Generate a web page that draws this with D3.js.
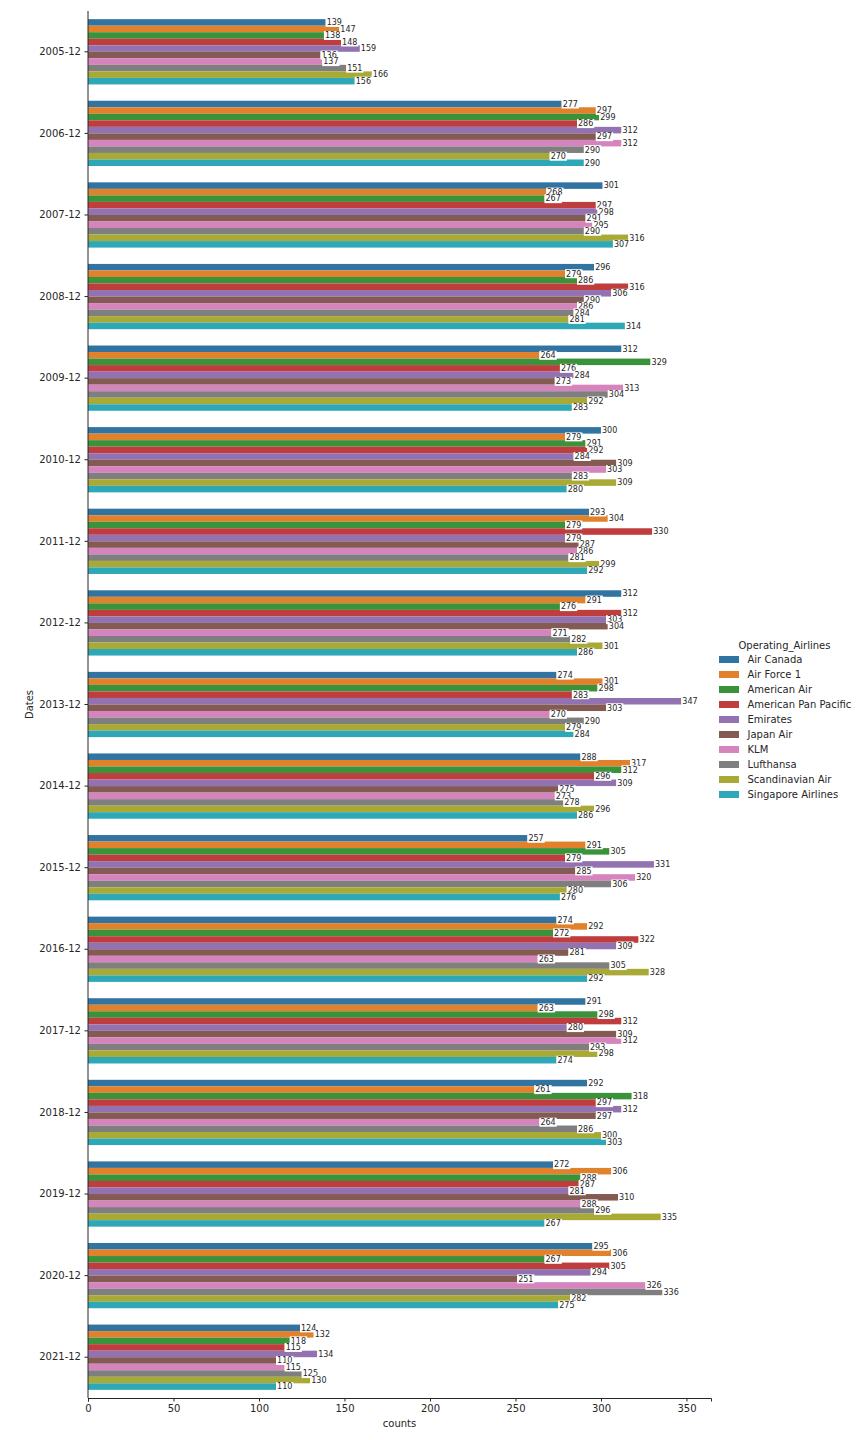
<!DOCTYPE html>
<html>
<head>
<meta charset="utf-8">
<script src="https://cdn.jsdelivr.net/npm/d3@7"></script>
<style>
  body { margin: 0; background: #fff; }
  svg { display: block; font-family: "DejaVu Sans", sans-serif; }
</style>
</head>
<body>
<svg id="chart" width="859" height="1440"></svg>
<script>
const dates = ["2005-12","2006-12","2007-12","2008-12","2009-12","2010-12","2011-12","2012-12","2013-12","2014-12","2015-12","2016-12","2017-12","2018-12","2019-12","2020-12","2021-12"];
const airlines = ["Air Canada","Air Force 1","American Air","American Pan Pacific","Emirates","Japan Air","KLM","Lufthansa","Scandinavian Air","Singapore Airlines"];
const colors = ["#3274a1","#e1812c","#3a923a","#c03d3e","#9372b2","#845b53","#d684bd","#7f7f7f","#a9aa35","#2ea8b6"];

// counts per date, in airline order
const c2005 = [139,147,138,148,159,136,137,151,166,156];
const c2006 = [277,297,299,286,312,297,312,290,270,290];
const c2007 = [301,268,267,297,298,291,295,290,316,307];
const c2008 = [296,279,286,316,306,290,286,284,281,314];
const c2009 = [312,264,329,276,284,273,313,304,292,283];
const c2010 = [300,279,291,292,284,309,303,283,309,280];
const c2011 = [293,304,279,330,279,287,286,281,299,292];
const c2012 = [312,291,276,312,303,304,271,282,301,286];
const c2013 = [274,301,298,283,347,303,270,290,279,284];
const c2014 = [288,317,312,296,309,275,273,278,296,286];
const c2015 = [257,291,305,279,331,285,320,306,280,276];
const c2016 = [274,292,272,322,309,281,263,305,328,292];
const c2017 = [291,263,298,312,280,309,312,293,298,274];
const c2018 = [292,261,318,297,312,297,264,286,300,303];
const c2019 = [272,306,288,287,281,310,288,296,335,267];
const c2020 = [295,306,267,305,294,251,326,336,282,275];
const c2021 = [124,132,118,115,134,110,115,125,130,110];
const counts = [c2005,c2006,c2007,c2008,c2009,c2010,c2011,c2012,c2013,c2014,c2015,c2016,c2017,c2018,c2019,c2020,c2021];
const xTicks = [0,50,100,150,200,250,300,350];

(function () {
const svg = d3.select("#chart");
const mLeft = 88, mRight = 711, mTop = 11, mBottom = 1398;
const textColor = "#262626";

const x = d3.scaleLinear().domain([0, 347 * 1.05]).range([mLeft, mRight]);
const y = d3.scaleBand().domain(dates).range([mTop, mBottom]).paddingInner(0.2).paddingOuter(0.1);
const yOuter = d3.scaleBand().domain(dates).range([mTop, mBottom]);
const yInner = d3.scaleBand().domain(airlines).range([0, y.bandwidth()]);

const data = [];
dates.forEach((d, i) => airlines.forEach((a, j) => data.push({date: d, airline: a, value: counts[i][j], hue: j})));

// bars
svg.append("g").selectAll("rect").data(data).join("rect")
  .attr("x", x(0))
  .attr("y", d => y(d.date) + yInner(d.airline))
  .attr("width", d => x(d.value) - x(0))
  .attr("height", yInner.bandwidth())
  .attr("fill", d => colors[d.hue]);

// labels, drawn hue by hue
const labG = svg.append("g");
airlines.forEach((a, j) => {
  const rows = data.filter(d => d.hue === j);
  rows.forEach(d => {
    const cy = y(d.date) + yInner(d.airline) + yInner.bandwidth() / 2;
    const g = labG.append("g");
    const r = g.append("rect").attr("fill", "#fff");
    const t = g.append("text")
      .attr("x", x(d.value) + 1)
      .attr("y", cy)
      .attr("dy", "0.35em")
      .attr("font-size", 8)
      .attr("fill", textColor)
      .text(d.value);
    const w = t.node().getComputedTextLength();
    r.attr("x", x(d.value)).attr("y", cy - 4.5).attr("width", w + 2).attr("height", 9);
  });
});

// x axis
const xAxis = svg.append("g").attr("transform", `translate(0,${mBottom})`)
  .call(d3.axisBottom(x).tickValues(xTicks).tickSize(3.5).tickPadding(3.5).tickFormat(d3.format("d")));
xAxis.select(".domain").attr("stroke", textColor).attr("stroke-width", 1);
xAxis.selectAll(".tick line").attr("stroke", textColor);
xAxis.selectAll("text").attr("font-size", 10).attr("fill", textColor).attr("font-family", "DejaVu Sans");

// y axis
const yAxis = svg.append("g").attr("transform", `translate(${mLeft},0)`)
  .call(d3.axisLeft(yOuter).tickSize(3.5).tickPadding(3.5));
yAxis.select(".domain").attr("stroke", textColor).attr("stroke-width", 1).attr("d", `M0,${mTop}V${mBottom}`);
yAxis.selectAll(".tick line").attr("stroke", textColor);
yAxis.selectAll("text").attr("font-size", 10).attr("fill", textColor).attr("font-family", "DejaVu Sans");

// axis titles
svg.append("text").attr("x", (mLeft + mRight) / 2).attr("y", 1427)
  .attr("text-anchor", "middle").attr("font-size", 10).attr("fill", textColor).text("counts");
svg.append("text").attr("transform", `translate(33,${(mTop + mBottom) / 2}) rotate(-90)`)
  .attr("text-anchor", "middle").attr("font-size", 10).attr("fill", textColor).text("Dates");

// legend
const lg = svg.append("g");
lg.append("text").attr("x", 784.5).attr("y", 648.5).attr("text-anchor", "middle")
  .attr("font-size", 10).attr("fill", textColor).text("Operating_Airlines");
airlines.forEach((a, j) => {
  const cy = 659.5 + j * 15;
  lg.append("rect").attr("x", 719).attr("y", cy - 3.5).attr("width", 20).attr("height", 7).attr("fill", colors[j]);
  lg.append("text").attr("x", 747.5).attr("y", cy).attr("dy", "0.35em")
    .attr("font-size", 10).attr("fill", textColor).text(a);
});
})();
</script>
</body>
</html>
